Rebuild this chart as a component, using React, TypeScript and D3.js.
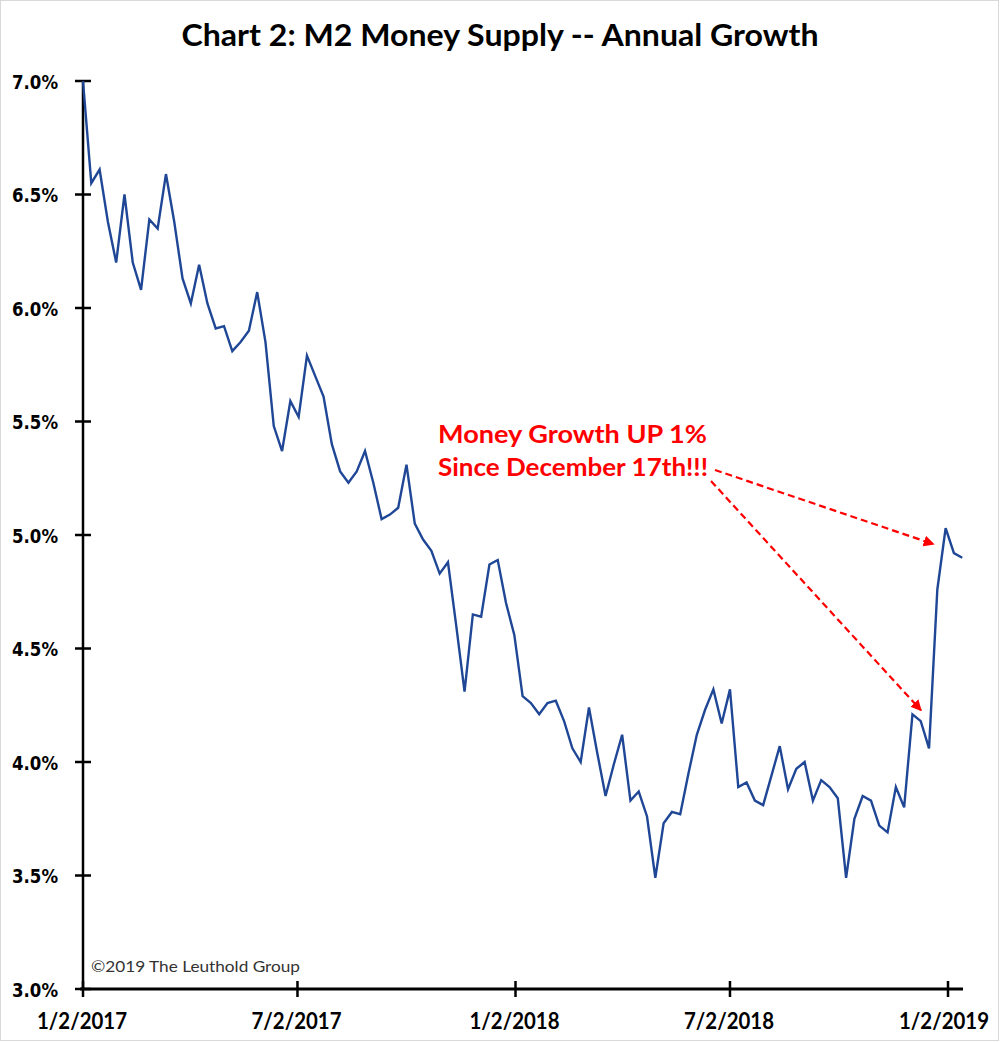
import React, { useEffect, useRef } from "react";
import * as d3 from "d3";

// weekly M2 annual growth (%), Mondays from 1/2/2017
const startDate = new Date(2017, 0, 2);
const growth = [
  7.0, 6.55, 6.61, 6.38, 6.2, 6.5, 6.2, 6.08, 6.39, 6.35,
  6.59, 6.38, 6.13, 6.02, 6.19, 6.02, 5.91, 5.92, 5.81, 5.85,
  5.9, 6.07, 5.85, 5.48, 5.37, 5.59, 5.52, 5.79, 5.7, 5.61,
  5.4, 5.28, 5.23, 5.28, 5.37, 5.23, 5.07, 5.09, 5.12, 5.31,
  5.05, 4.98, 4.93, 4.83, 4.88, 4.6, 4.31, 4.65, 4.64, 4.87,
  4.89, 4.7, 4.56, 4.29, 4.26, 4.21, 4.26, 4.27, 4.18, 4.06,
  4.0, 4.24, 4.04, 3.85, 3.99, 4.12, 3.83, 3.87, 3.76, 3.49,
  3.73, 3.78, 3.77, 3.95, 4.12, 4.23, 4.32, 4.17, 4.32, 3.89,
  3.91, 3.83, 3.81, 3.94, 4.07, 3.88, 3.97, 4.0, 3.83, 3.92,
  3.89, 3.84, 3.49, 3.75, 3.85, 3.83, 3.72, 3.69, 3.89, 3.8,
  4.21, 4.18, 4.06, 4.76, 5.03, 4.92, 4.9,
];
const yTicks = [3.0, 3.5, 4.0, 4.5, 5.0, 5.5, 6.0, 6.5, 7.0];
const xTickDates = [
  new Date(2017, 0, 2),
  new Date(2017, 6, 2),
  new Date(2018, 0, 2),
  new Date(2018, 6, 2),
  new Date(2019, 0, 2),
];
const noteLines = ["Money Growth UP 1%", "Since December 17th!!!"];
const chartTitle = "Chart 2: M2 Money Supply -- Annual Growth";
const credit = "\u00A92019 The Leuthold Group";

const W = 1000;
const H = 1043;

export default function App() {
  const ref = useRef<SVGSVGElement>(null);

  useEffect(() => {
    const svg = d3.select(ref.current);
    svg.selectAll("*").remove();

    const data = growth.map((v, i) => ({ date: d3.timeWeek.offset(startDate, i), v }));

    const x = d3.scaleTime().domain([xTickDates[0], xTickDates[4]]).range([83, 948]);
    const y = d3.scaleLinear().domain([3, 7]).range([989, 81]);

    // light frame around the image
    svg.append("rect")
      .attr("x", 0.5).attr("y", 0.5)
      .attr("width", W - 2).attr("height", H - 3)
      .attr("fill", "#fff").attr("stroke", "#d9d9d9");

    svg.append("text")
      .attr("x", 500).attr("y", 46)
      .attr("text-anchor", "middle")
      .attr("font-family", "Lato, 'Open Sans', sans-serif")
      .attr("font-weight", "bold")
      .attr("font-size", 30)
      .attr("textLength", 637)
      .attr("lengthAdjust", "spacingAndGlyphs")
      .attr("fill", "#000")
      .text(chartTitle);

    // y axis
    const yAxis = svg.append("g");
    yAxis.append("line")
      .attr("x1", 83).attr("x2", 83)
      .attr("y1", y(7)).attr("y2", y(3))
      .attr("stroke", "#000").attr("stroke-width", 2.5);
    yAxis.selectAll("line.tick").data(yTicks).enter().append("line")
      .attr("class", "tick")
      .attr("x1", 75).attr("x2", 91)
      .attr("y1", (d) => y(d)).attr("y2", (d) => y(d))
      .attr("stroke", "#000").attr("stroke-width", 2.5);
    yAxis.selectAll("text").data(yTicks).enter().append("text")
      .attr("x", 58)
      .attr("y", (d) => y(d) + 7.5)
      .attr("text-anchor", "end")
      .attr("font-family", "'DejaVu Sans', Verdana, sans-serif")
      .attr("font-weight", "bold")
      .attr("font-size", 20)
      .attr("textLength", 46)
      .attr("lengthAdjust", "spacingAndGlyphs")
      .attr("fill", "#000")
      .text((d) => d.toFixed(1) + "%");

    // x axis
    const xAxis = svg.append("g");
    xAxis.append("line")
      .attr("x1", 80).attr("x2", 963)
      .attr("y1", 989).attr("y2", 989)
      .attr("stroke", "#000").attr("stroke-width", 3);
    xAxis.selectAll("line.tick").data(xTickDates).enter().append("line")
      .attr("class", "tick")
      .attr("x1", (d) => x(d)).attr("x2", (d) => x(d))
      .attr("y1", 981).attr("y2", 997)
      .attr("stroke", "#000").attr("stroke-width", 2.5);
    const fmt = d3.timeFormat("%-m/%-d/%Y");
    xAxis.selectAll("text").data(xTickDates).enter().append("text")
      .attr("x", (d, i) => x(d) - (i === xTickDates.length - 1 ? 4 : 1))
      .attr("y", 1029)
      .attr("text-anchor", "middle")
      .attr("font-family", "Lato, 'Open Sans', sans-serif")
      .attr("font-weight", "bold")
      .attr("font-size", 23)
      .attr("textLength", 90)
      .attr("lengthAdjust", "spacingAndGlyphs")
      .attr("fill", "#000")
      .text((d) => fmt(d));

    svg.append("text")
      .attr("x", 91).attr("y", 972)
      .attr("font-family", "Lato, 'Open Sans', sans-serif")
      .attr("font-size", 16)
      .attr("textLength", 209)
      .attr("lengthAdjust", "spacingAndGlyphs")
      .attr("fill", "#333")
      .text(credit);

    const line = d3.line<{ date: Date; v: number }>()
      .x((d) => x(d.date))
      .y((d) => y(d.v));
    svg.append("path")
      .datum(data)
      .attr("d", line)
      .attr("fill", "none")
      .attr("stroke", "#1f4796")
      .attr("stroke-width", 2.4)
      .attr("stroke-linejoin", "miter");

    // annotation
    const note = svg.append("g");
    note.selectAll("text").data(noteLines).enter().append("text")
      .attr("x", 438)
      .attr("y", (_d, i) => 443 + i * 33)
      .attr("font-family", "Lato, 'Open Sans', sans-serif")
      .attr("font-weight", "bold")
      .attr("font-size", 25)
      .attr("textLength", (_d, i) => (i === 0 ? 269 : 270))
      .attr("lengthAdjust", "spacingAndGlyphs")
      .attr("fill", "#ff0000")
      .text((d) => d);

    const defs = svg.append("defs");
    defs.append("marker")
      .attr("id", "arrowRed")
      .attr("viewBox", "0 0 10 10")
      .attr("refX", 9).attr("refY", 5)
      .attr("markerWidth", 5).attr("markerHeight", 5)
      .attr("orient", "auto")
      .append("path")
      .attr("d", "M0,0 L10,5 L0,10 Z")
      .attr("fill", "#ff0000");

    const decIdx = 102;
    const peakIdx = 104;
    const arrows = [
      { x1: 715, y1: 470, x2: x(data[peakIdx].date) - 12, y2: y(data[peakIdx].v) + 16 },
      { x1: 711, y1: 481, x2: x(data[decIdx].date) - 8, y2: y(4.21) - 4 },
    ];
    note.selectAll("line").data(arrows).enter().append("line")
      .attr("x1", (d) => d.x1).attr("y1", (d) => d.y1)
      .attr("x2", (d) => d.x2).attr("y2", (d) => d.y2)
      .attr("stroke", "#ff0000")
      .attr("stroke-width", 2.2)
      .attr("stroke-dasharray", "7,4")
      .attr("marker-end", "url(#arrowRed)");
  }, []);

  return (
    <svg
      ref={ref}
      width={W}
      height={H}
      style={{ position: "absolute", left: 0, top: 0, display: "block" }}
    />
  );
}
